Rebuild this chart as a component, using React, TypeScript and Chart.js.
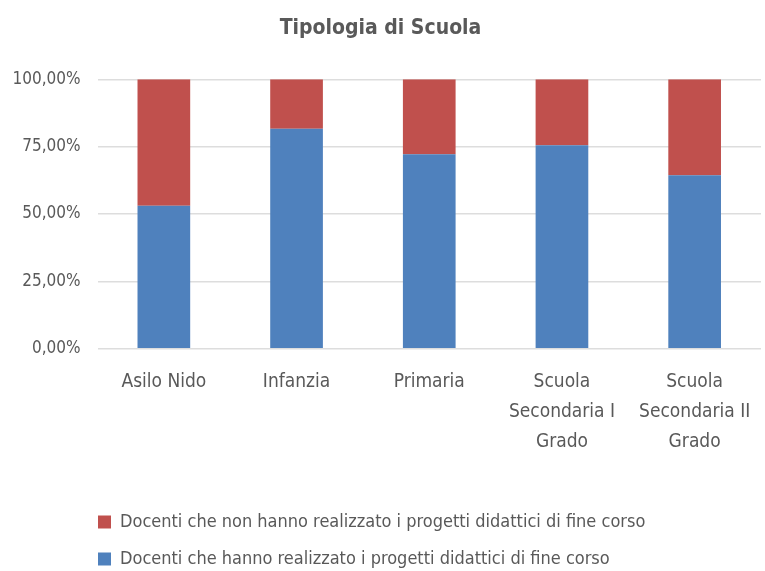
import React, { useEffect, useRef } from "react";
import { Chart, registerables } from "chart.js";

Chart.register(...registerables);

const categories: (string | string[])[] = [
  "Asilo Nido",
  "Infanzia",
  "Primaria",
  ["Scuola", "Secondaria I", "Grado"],
  ["Scuola", "Secondaria II", "Grado"],
];
const realizzato = [53.1, 81.6, 72.2, 75.5, 64.4];
const nonRealizzato = [46.9, 18.4, 27.8, 24.5, 35.6];
const seriesLabels = [
  "Docenti che hanno realizzato i progetti didattici di fine corso",
  "Docenti che non hanno realizzato i progetti didattici di fine corso",
];
const title = "Tipologia di Scuola";
const yTicks = [0, 25, 50, 75, 100];

const FONT = "'Liberation Sans Narrow', 'DejaVu Sans Condensed', 'Arial Narrow', sans-serif";
const TEXT = "#595959";

const legendShift = {
  id: "legendShift",
  afterLayout(chart: any) {
    const lg = chart.legend;
    if (lg) {
      lg.left += 79;
      lg.right += 79;
      lg.top += 7;
      lg.bottom += 7;
    }
  },
};

export default function App() {
  const ref = useRef<HTMLCanvasElement>(null);
  useEffect(() => {
    if (!ref.current) return;
    const chart = new Chart(ref.current, {
      type: "bar",
      data: {
        labels: categories,
        datasets: [
          {
            label: seriesLabels[0],
            data: realizzato,
            backgroundColor: "#4F81BD",
          },
          {
            label: seriesLabels[1],
            data: nonRealizzato,
            backgroundColor: "#C0504D",
          },
        ],
      },
      plugins: [legendShift],
      options: {
        responsive: false,
        animation: false,
        layout: { padding: { left: 0, right: 4, top: 0, bottom: 0 } },
        datasets: {
          bar: { categoryPercentage: 1, barPercentage: 0.397 },
        },
        plugins: {
          title: {
            display: true,
            text: title,
            color: TEXT,
            font: { family: FONT, size: 21, weight: "bold", lineHeight: 1.2 },
            padding: { top: 16, bottom: 38.1 },
          },
          legend: {
            display: true,
            position: "bottom",
            align: "start",
            reverse: true,
            labels: {
              boxWidth: 13,
              boxHeight: 13,
              padding: 19,
              color: TEXT,
              font: { family: FONT, size: 18 },
            },
          },
          tooltip: { enabled: false },
        },
        scales: {
          x: {
            stacked: true,
            grid: { display: false },
            border: { display: false },
            ticks: {
              color: TEXT,
              font: { family: FONT, size: 19, lineHeight: 1.58 },
              padding: 10,
              maxRotation: 0,
              autoSkip: false,
            },
            afterFit: (s: any) => {
              s.height = 138.3;
            },
          },
          y: {
            stacked: true,
            min: 0,
            max: 100,
            afterBuildTicks: (s: any) => {
              s.ticks = yTicks.map((v) => ({ value: v }));
            },
            grid: { color: "#DDDDDD", lineWidth: 1.5, drawTicks: false },
            border: { display: false },
            ticks: {
              color: TEXT,
              font: { family: FONT, size: 17 },
              padding: 17,
              callback: (v: any) => Number(v).toFixed(2).replace(".", ",") + "%",
            },
            afterFit: (s: any) => {
              s.width = 97.5;
            },
          },
        },
      },
    });
    return () => chart.destroy();
  }, []);
  return (
    <div style={{ position: "fixed", left: 0, top: 0, width: 765, height: 571, background: "#fff" }}>
      <canvas ref={ref} width={765} height={571} />
    </div>
  );
}
